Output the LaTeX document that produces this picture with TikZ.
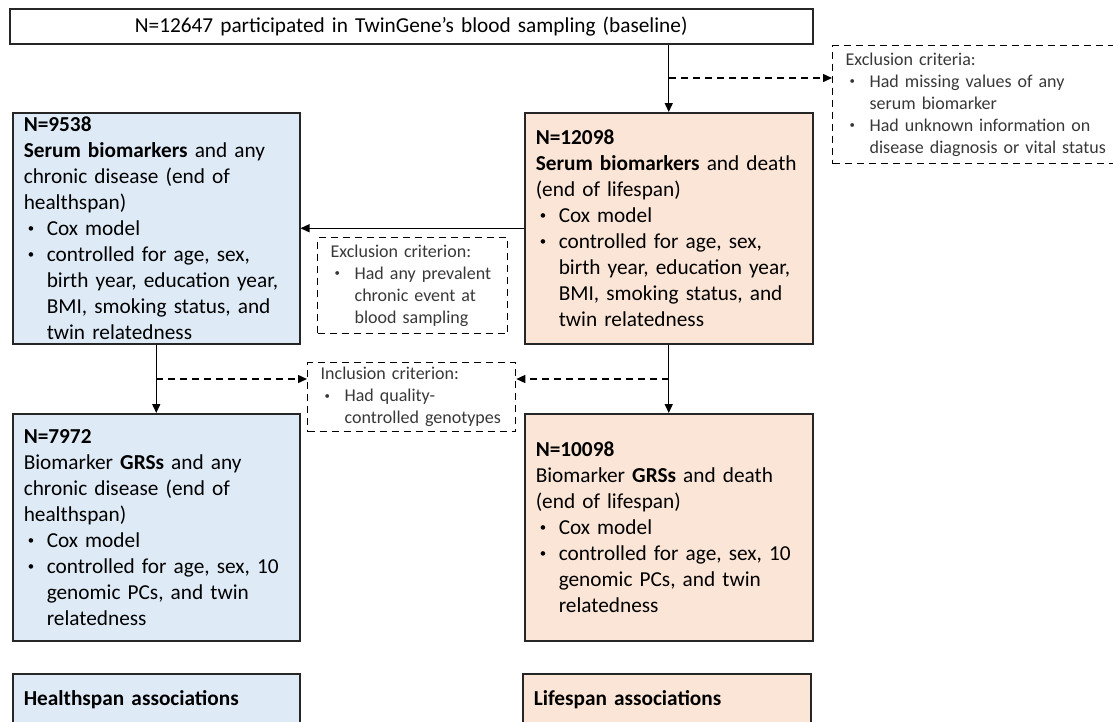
\documentclass[tikz,border=0pt]{standalone}
\usepackage{fontspec}
\setmainfont{Carlito}
\usetikzlibrary{arrows.meta}
\definecolor{healthblue}{RGB}{222,235,247}
\definecolor{lifeorange}{RGB}{251,229,214}
\definecolor{critgray}{RGB}{56,56,56}
\newcommand{\bodyfont}{\fontsize{21.3}{26}\selectfont}
\newcommand{\critfont}{\fontsize{18}{22}\selectfont}
\newcommand{\smalldot}{\raisebox{0.3ex}{\scalebox{0.6}{\textbullet}}}
\newcommand{\bulletbig}{\makebox[23pt][l]{\hspace{4pt}\smalldot}}
\newcommand{\indentbig}{\hspace*{23pt}}
\newcommand{\bulletsmall}{\makebox[24pt][l]{\hspace{4pt}\smalldot}}
\newcommand{\indentsmall}{\hspace*{24pt}}
\tikzset{
  box/.style={
    draw=black!85,
    line width=1.5pt,
    anchor=north west,
    align=left,
    inner xsep=11pt,
    inner ysep=0pt,
    font=\bodyfont
  },
  box-top/.style={box, fill=white, align=center, text width=781pt, minimum height=35pt},
  box-health/.style={box, fill=healthblue, text width=265pt},
  box-life/.style={box, fill=lifeorange, text width=266pt},
  box-crit/.style={
    draw=black,
    line width=1.3pt,
    dash pattern=on 7pt off 5pt,
    anchor=north west,
    align=left,
    inner xsep=13pt,
    inner ysep=0pt,
    font=\critfont,
    text=critgray
  },
  link/.style={draw=black, line width=1.4pt, -{Triangle[length=9pt,width=8pt]}},
  link-dashed/.style={link, dash pattern=on 7pt off 5pt}
}

\begin{document}
\begin{tikzpicture}[x=1pt, y=-1pt]
  \useasboundingbox (0,0) rectangle (1113,721);

  % --- Baseline sample ---
  \node[box-top] (baseline) at (9,8)
    {N=12647 participated in TwinGene’s blood sampling (baseline)};

  % --- Serum biomarkers (phenotypic) ---
  \node[box-health, minimum height=231pt] (serumHealth) at (12,112)
    {\textbf{N=9538}\\
     \textbf{Serum biomarkers} and any\\
     chronic disease (end of\\
     healthspan)\\
     \bulletbig Cox model\\
     \bulletbig controlled for age, sex,\\
     \indentbig birth year, education year,\\
     \indentbig BMI, smoking status, and\\
     \indentbig twin relatedness};

  \node[box-life, minimum height=231pt] (serumLife) at (524,112)
    {\textbf{N=12098}\\
     \textbf{Serum biomarkers} and death\\
     (end of lifespan)\\
     \bulletbig Cox model\\
     \bulletbig controlled for age, sex,\\
     \indentbig birth year, education year,\\
     \indentbig BMI, smoking status, and\\
     \indentbig twin relatedness};

  % --- Genetic risk scores ---
  \node[box-health, minimum height=227pt] (grsHealth) at (12,413)
    {\textbf{N=7972}\\
     Biomarker \textbf{GRSs} and any\\
     chronic disease (end of\\
     healthspan)\\
     \bulletbig Cox model\\
     \bulletbig controlled for age, sex, 10\\
     \indentbig genomic PCs, and twin\\
     \indentbig relatedness};

  \node[box-life, minimum height=227pt] (grsLife) at (524,413)
    {\textbf{N=10098}\\
     Biomarker \textbf{GRSs} and death\\
     (end of lifespan)\\
     \bulletbig Cox model\\
     \bulletbig controlled for age, sex, 10\\
     \indentbig genomic PCs, and twin\\
     \indentbig relatedness};

  % --- Results (cut by the page edge) ---
  \node[box-health, minimum height=52pt] (healthAssoc) at (12,673)
    {\textbf{Healthspan associations}};
  \node[box-life, minimum height=52pt] (lifeAssoc) at (522,673)
    {\textbf{Lifespan associations}};

  % --- Criteria ---
  \node[box-crit, text width=272pt, minimum height=118pt] (exclCriteria) at (832,45)
    {Exclusion criteria:\\
     \bulletsmall Had missing values of any\\
     \indentsmall serum biomarker\\
     \bulletsmall Had unknown information on\\
     \indentsmall disease diagnosis or vital status};

  \node[box-crit, text width=164pt, minimum height=96pt] (exclPrevalent) at (317,237)
    {Exclusion criterion:\\
     \bulletsmall Had any prevalent\\
     \indentsmall chronic event at\\
     \indentsmall blood sampling};

  \node[box-crit, text width=182pt, minimum height=69pt] (inclGeno) at (307,362)
    {Inclusion criterion:\\
     \bulletsmall Had quality-\\
     \indentsmall controlled genotypes};

  % --- Connectors ---
  \coordinate (exclLevel) at (0,78);
  \coordinate (inclLevel) at (0,379);
  \coordinate (exclTap) at (serumLife.north |- exclLevel);
  \coordinate (inclTapL) at (serumHealth.south |- inclLevel);
  \coordinate (inclTapR) at (serumLife.south |- inclLevel);

  \draw[link] (baseline.south -| serumLife.north) -- (serumLife.north);
  \draw[link-dashed] (exclTap) -- (exclTap -| exclCriteria.west);
  \draw[link] (serumLife.west) -- (serumHealth.east);
  \draw[link] (serumHealth.south) -- (grsHealth.north);
  \draw[link] (serumLife.south) -- (grsLife.north);
  \draw[link-dashed] (inclTapL) -- (inclTapL -| inclGeno.west);
  \draw[link-dashed] (inclTapR) -- (inclTapR -| inclGeno.east);
\end{tikzpicture}
\end{document}
